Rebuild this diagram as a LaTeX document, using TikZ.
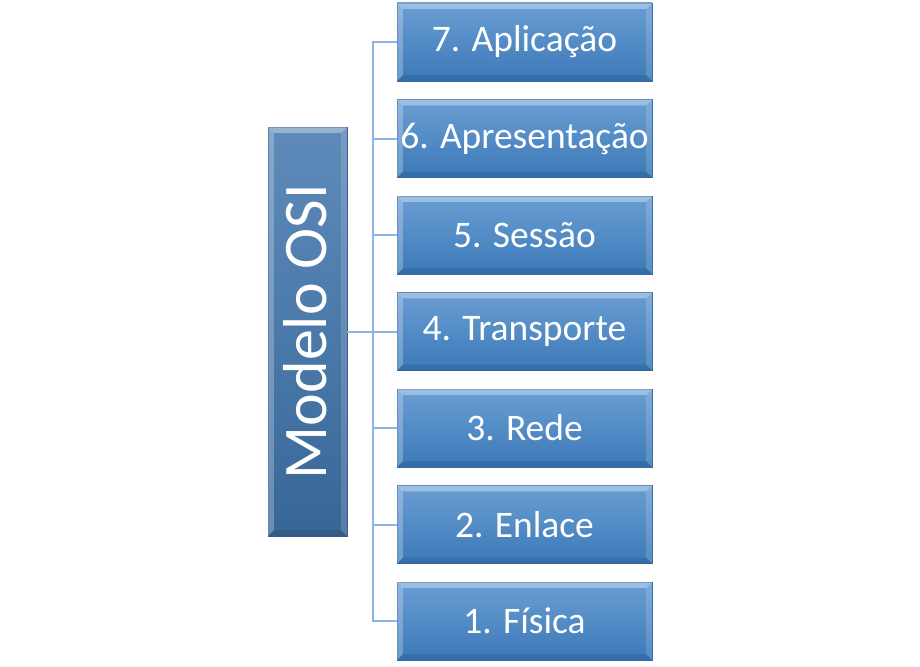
\documentclass[tikz,border=0pt]{standalone}
\usepackage{fontspec}
\setmainfont{Carlito}
\definecolor{boxtop}{HTML}{6A9ED3}
\definecolor{boxbot}{HTML}{3C79B8}
\definecolor{maintop}{HTML}{5E8BBA}
\definecolor{mainbot}{HTML}{386797}
\definecolor{linecol}{HTML}{8EB4E3}
\tikzset{
  layer/.style={minimum width=255pt, minimum height=78pt, inner sep=0pt,
    top color=boxtop, bottom color=boxbot, draw=boxbot!90!black, line width=0.3pt,
    text=white, font=\fontsize{37.5}{42}\selectfont},
  mainbox/.style={minimum width=79pt, minimum height=409pt, inner sep=0pt,
    top color=maintop, bottom color=mainbot, draw=mainbot!90!black, line width=0.3pt},
  conn/.style={draw=linecol, line width=2pt}
}
\newcommand{\bevel}[1]{%
  \fill[white, opacity=0.35] (#1.north west) -- (#1.north east) -- ([xshift=-6pt,yshift=-6pt]#1.north east) -- ([xshift=6pt,yshift=-6pt]#1.north west) -- cycle;
  \fill[white, opacity=0.25] (#1.north west) -- ([xshift=6pt,yshift=-6pt]#1.north west) -- ([xshift=6pt,yshift=6pt]#1.south west) -- (#1.south west) -- cycle;
  \fill[white, opacity=0.15] (#1.north east) -- ([xshift=-6pt,yshift=-6pt]#1.north east) -- ([xshift=-6pt,yshift=6pt]#1.south east) -- (#1.south east) -- cycle;
  \fill[black, opacity=0.10] (#1.south west) -- ([xshift=6pt,yshift=6pt]#1.south west) -- ([xshift=-6pt,yshift=6pt]#1.south east) -- (#1.south east) -- cycle;
}
\begin{document}
\begin{tikzpicture}[x=1pt,y=-1pt]
\useasboundingbox (0,0) rectangle (920,666);
\node[mainbox] (main) at (307.5,331.5) {};
\node[layer] (b7) at (524.5,42) {7. Aplicação};
\node[layer] (b6) at (524.5,138.5) {6. Apresentação};
\node[layer] (b5) at (524.5,235) {5. Sessão};
\node[layer] (b4) at (524.5,331.5) {4. Transporte};
\node[layer] (b3) at (524.5,428) {3. Rede};
\node[layer] (b2) at (524.5,524.5) {2. Enlace};
\node[layer] (b1) at (524.5,621) {1. Física};
\foreach \n in {main,b7,b6,b5,b4,b3,b2,b1}{\bevel{\n}}
\node[rotate=90, text=white, font=\fontsize{62}{70}\selectfont] (mt) at ([xshift=-2pt]main.center) {Modelo OSI};
\coordinate (trunktop) at ([xshift=-24pt]b7.west);
\coordinate (trunkbot) at ([xshift=-24pt]b1.west);
\draw[conn] (main.east) -- (b4.west);
\draw[conn] (trunktop) -- (trunkbot);
\foreach \n in {b7,b6,b5,b4,b3,b2,b1}{\draw[conn] ([xshift=-25pt]\n.west) -- (\n.west);}
\end{tikzpicture}
\end{document}
